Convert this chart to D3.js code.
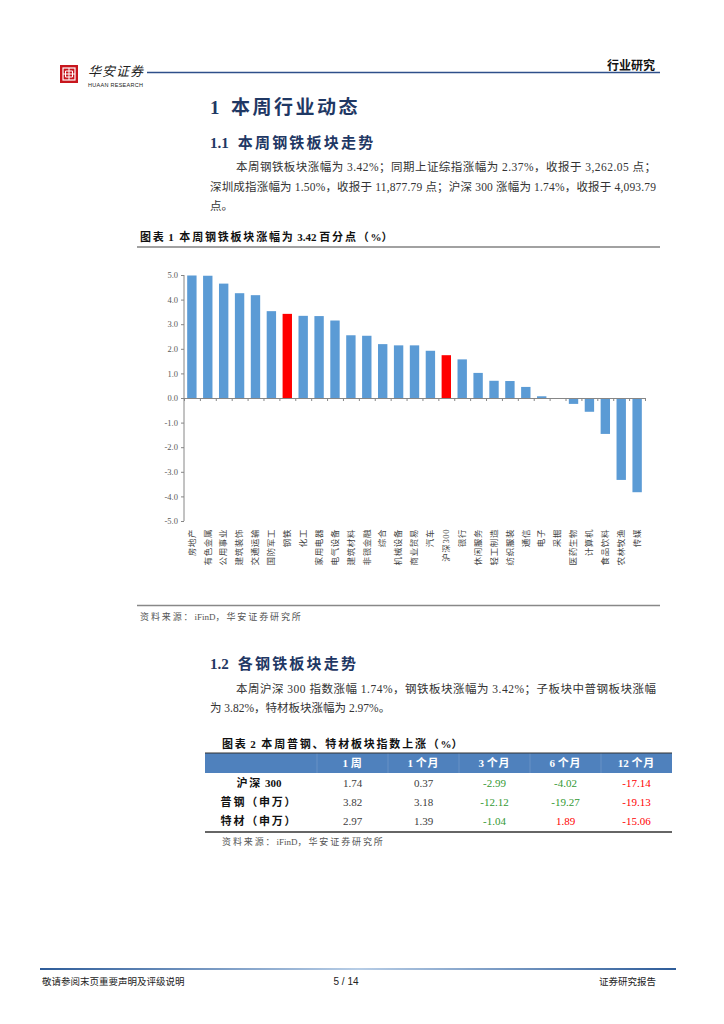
<!DOCTYPE html>
<html>
<head>
<meta charset="utf-8">
<script src="https://cdn.jsdelivr.net/npm/d3@7"></script>
<style>
  html, body { margin: 0; padding: 0; background: #fff; }
  svg { display: block; }
  .serif { font-family: "Liberation Serif", "Noto Sans CJK SC", serif; }
  .sans { font-family: "Liberation Sans", "Noto Sans CJK SC", sans-serif; }
</style>
</head>
<body>
<svg id="page" width="724" height="1024"></svg>
<script>
// ---- chart 1: weekly change by sector (%) ----
const sectors = ["房地产", "有色金属", "公用事业", "建筑装饰", "交通运输", "国防军工", "钢铁", "化工",
    "家用电器", "电气设备", "建筑材料", "非银金融", "综合", "机械设备", "商业贸易", "汽车", "沪深300",
    "银行", "休闲服务", "轻工制造", "纺织服装", "通信", "电子", "采掘", "医药生物", "计算机",
    "食品饮料", "农林牧渔", "传媒"];
const weeklyChange = [4.98, 4.97, 4.65, 4.26, 4.18, 3.53, 3.42, 3.34, 3.33, 3.15, 2.55, 2.53,
    2.19, 2.14, 2.14, 1.92, 1.74, 1.57, 1.02, 0.70, 0.69, 0.45, 0.07, -0.01, -0.24, -0.56,
    -1.46, -3.33, -3.83];
const highlighted = ["钢铁", "沪深300"];
const yTicks = [-5, -4, -3, -2, -1, 0, 1, 2, 3, 4, 5];

// ---- table 2: steel sub-sector index change (%) ----
const periods = ["1 周", "1 个月", "3 个月", "6 个月", "12 个月"];
const indexNames = ["沪深 300", "普钢（申万）", "特材（申万）"];
const hs300Row = [1.74, 0.37, -2.99, -4.02, -17.14];
const puGangRow = [3.82, 3.18, -12.12, -19.27, -19.13];
const teCaiRow = [2.97, 1.39, -1.04, 1.89, -15.06];

const svg = d3.select("#page");
const navy = "#1f3864";
const ink = "#333333";

// split a string into CJK / latin runs, spacing out only the CJK ones
function spaced(sel, txt, spacing) {
    let runs = txt.match(/[\u3000-\u9fff\uff00-\uffef]+|[^\u3000-\u9fff\uff00-\uffef]+/g);
    runs.forEach(function (r) {
        let cjk = /[\u3000-\u9fff\uff00-\uffef]/.test(r);
        sel.append("tspan").style("letter-spacing", cjk ? spacing + "px" : "0px")
            .text(cjk ? r : r.replace(/ /g, "\u00a0"));
    });
    return sel;
}

// ---------------- page header ----------------
let logo = svg.append("g").attr("transform", "translate(60,65)");
logo.append("rect").attr("width", 18).attr("height", 18).attr("fill", "#c8161d");
logo.append("rect").attr("x", 3).attr("y", 3).attr("width", 12).attr("height", 12)
    .attr("fill", "none").attr("stroke", "#fff").attr("stroke-width", 1.2);
logo.append("path").attr("d", "M9,3V15M3,9H15M5.5,6H12.5V12H5.5Z")
    .attr("fill", "none").attr("stroke", "#fff").attr("stroke-width", 1);

svg.append("text").attr("x", 88).attr("y", 76)
    .style("font-family", "'Noto Sans CJK SC'").style("font-size", "13px")
    .style("font-style", "italic").style("letter-spacing", "1px")
    .attr("fill", "#222").text("华安证券");
svg.append("text").attr("x", 88).attr("y", 87).attr("class", "sans")
    .style("font-size", "5.5px").attr("fill", "#222").attr("textLength", 55)
    .text("HUAAN RESEARCH");
svg.append("line").attr("x1", 147).attr("x2", 660).attr("y1", 72.5).attr("y2", 72.5)
    .attr("stroke", "#2e4f8a").attr("stroke-width", 1.5);
svg.append("text").attr("x", 655).attr("y", 70).attr("text-anchor", "end")
    .style("font-family", "'Noto Sans CJK SC'").style("font-size", "12px")
    .style("font-weight", "bold").attr("fill", "#111").text("行业研究");

// ---------------- text blocks ----------------
function heading(x, y, size, spacing, num, title) {
    let t = svg.append("text").attr("x", x).attr("y", y).attr("class", "serif")
        .style("font-size", size + "px").style("font-weight", "bold")
        .attr("fill", navy);
    t.append("tspan").text(num);
    t.append("tspan").attr("dx", size * 0.6).style("letter-spacing", spacing + "px").text(title);
}
function para(x, y, txt, width) {
    let t = svg.append("text").attr("x", x).attr("y", y).attr("class", "serif")
        .style("font-size", "11.5px").attr("fill", ink).text(txt);
    if (width) t.attr("textLength", width).attr("lengthAdjust", "spacing");
}
function caption(x, y, txt) {
    let t = svg.append("text").attr("x", x).attr("y", y).attr("class", "serif")
        .style("font-size", "11px").style("font-weight", "bold")
        .attr("fill", "#111");
    spaced(t, txt, 1.8);
}
function source(x, y) {
    let t = svg.append("text").attr("x", x).attr("y", y).attr("class", "serif")
        .style("font-size", "9px").attr("fill", "#555");
    spaced(t, "资料来源：iFinD，华安证券研究所", 1.9);
}

heading(210, 114, 19, 2.5, "1", "本周行业动态");
heading(210, 148, 15, 2.2, "1.1", "本周钢铁板块走势");
para(236, 171, "本周钢铁板块涨幅为 3.42%；同期上证综指涨幅为 2.37%，收报于 3,262.05 点；", 420);
para(210, 191, "深圳成指涨幅为 1.50%，收报于 11,877.79 点；沪深 300 涨幅为 1.74%，收报于 4,093.79", 446);
para(210, 210, "点。");

caption(140, 241, "图表 1  本周钢铁板块涨幅为 3.42 百分点（%）");
svg.append("line").attr("x1", 137).attr("x2", 660).attr("y1", 247).attr("y2", 247)
    .attr("stroke", "#444").attr("stroke-width", 1.2);

// ---------------- chart 1 ----------------
let x = d3.scaleBand().domain(sectors).range([184, 645]).paddingInner(0.41).paddingOuter(0.2);
let y = d3.scaleLinear().domain([-5, 5]).range([521, 275]);
let chart = svg.append("g").attr("id", "chart1");

chart.selectAll("rect.bar")
    .data(sectors)
    .enter().append("rect")
    .attr("class", "bar")
    .attr("x", d => x(d))
    .attr("width", x.bandwidth())
    .attr("y", (d, i) => y(Math.max(0, weeklyChange[i])))
    .attr("height", (d, i) => Math.abs(y(weeklyChange[i]) - y(0)))
    .attr("fill", d => highlighted.includes(d) ? "#ff0000" : "#5b9bd5");

let yAxis = d3.axisLeft(y).tickValues(yTicks).tickSize(3).tickPadding(3)
    .tickFormat(d => d.toFixed(1));
let gy = chart.append("g").attr("transform", "translate(184,0)").call(yAxis);
gy.selectAll("text").attr("class", "serif").style("font-size", "8.5px").attr("fill", "#595959");
gy.selectAll("line, path").attr("stroke", "#868686");
gy.select("path").attr("d", "M0," + y(5) + "V" + y(-5));

// tick marks on category boundaries
let bounds = d3.scaleLinear().domain([0, sectors.length]).range([184, 645]);
let xAxis = d3.axisBottom(bounds).tickValues(d3.range(sectors.length + 1)).tickSize(3)
    .tickSizeOuter(0).tickFormat("");
let gx = chart.append("g").attr("transform", "translate(0," + y(0) + ")").call(xAxis);
gx.selectAll("line, path").attr("stroke", "#868686");

// category labels
let labelAxis = d3.axisBottom(x).tickSize(0).tickPadding(0);
let gl = chart.append("g").attr("transform", "translate(0,529)").call(labelAxis);
gl.select("path").remove();
gl.selectAll("text")
    .attr("class", "serif")
    .style("font-size", "8.5px")
    .style("letter-spacing", "0.6px")
    .attr("fill", "#444")
    .attr("text-anchor", "end")
    .attr("dy", "0.32em")
    .attr("transform", "rotate(-90)")
    .attr("x", 0).attr("y", 0);

svg.append("line").attr("x1", 137).attr("x2", 660).attr("y1", 605.5).attr("y2", 605.5)
    .attr("stroke", "#888").attr("stroke-width", 1.5);
source(140, 620);

// ---------------- section 1.2 ----------------
heading(210, 669, 15, 2.2, "1.2", "各钢铁板块走势");
para(236, 693, "本周沪深 300 指数涨幅 1.74%，钢铁板块涨幅为 3.42%；子板块中普钢板块涨幅", 420);
para(210, 712, "为 3.82%，特材板块涨幅为 2.97%。");

caption(222, 748, "图表 2  本周普钢、特材板块指数上涨（%）");

// ---------------- table 2 ----------------
let colX = d3.scaleBand().domain(periods).range([317, 672]);
let rowY = d3.scaleBand().domain(indexNames).range([773, 831]);
let table = svg.append("g").attr("id", "table2");

table.append("rect").attr("x", 205).attr("y", 753).attr("width", 467).attr("height", 20)
    .attr("fill", "#4f81bd");
table.selectAll("line.div")
    .data(periods)
    .enter().append("line")
    .attr("class", "div")
    .attr("x1", d => colX(d)).attr("x2", d => colX(d))
    .attr("y1", 753).attr("y2", 773)
    .attr("stroke", "#7aa0cf").attr("stroke-width", 0.6);
table.append("line").attr("x1", 205).attr("x2", 672).attr("y1", 753).attr("y2", 753)
    .attr("stroke", "#333").attr("stroke-width", 1);
table.append("line").attr("x1", 205).attr("x2", 672).attr("y1", 832).attr("y2", 832)
    .attr("stroke", "#333").attr("stroke-width", 1.5);

table.selectAll("text.head")
    .data(periods)
    .enter().append("text")
    .attr("class", "head serif")
    .attr("x", d => colX(d) + colX.bandwidth() / 2)
    .attr("y", 767)
    .attr("text-anchor", "middle")
    .style("font-size", "11px").style("font-weight", "bold")
    .attr("fill", "#fff")
    .each(function (d) { spaced(d3.select(this), d, 1); });

let rows = [hs300Row, puGangRow, teCaiRow];
table.selectAll("text.rowname")
    .data(indexNames)
    .enter().append("text")
    .attr("class", "rowname serif")
    .attr("x", 259)
    .attr("y", d => rowY(d) + rowY.bandwidth() / 2 + 4)
    .attr("text-anchor", "middle")
    .style("font-size", "11px").style("font-weight", "bold")
    .attr("fill", "#111")
    .each(function (d) { spaced(d3.select(this), d, 1.8); });

function tone(v, j) {
    if (j < 2) return "#404040";
    if (j === 4) return "#ff0000";
    return v < 0 ? "#339933" : "#ff0000";
}
rows.forEach(function (row, i) {
    table.selectAll("text.r" + i)
        .data(row)
        .enter().append("text")
        .attr("class", "r" + i + " serif")
        .attr("x", (d, j) => colX(periods[j]) + colX.bandwidth() / 2)
        .attr("y", rowY(indexNames[i]) + rowY.bandwidth() / 2 + 4)
        .attr("text-anchor", "middle")
        .style("font-size", "11px")
        .attr("fill", (d, j) => tone(d, j))
        .text(d => d.toFixed(2));
});

source(222, 845);

// ---------------- footer ----------------
let grad = svg.append("defs").append("linearGradient").attr("id", "foot");
grad.append("stop").attr("offset", "0%").attr("stop-color", "#2e5c99");
grad.append("stop").attr("offset", "50%").attr("stop-color", "#b7cde6");
grad.append("stop").attr("offset", "100%").attr("stop-color", "#2e5c99");
svg.append("rect").attr("x", 40).attr("y", 968).attr("width", 636).attr("height", 2)
    .attr("fill", "url(#foot)");
svg.append("text").attr("x", 42).attr("y", 985)
    .style("font-family", "'Noto Sans CJK SC'").style("font-size", "9.5px")
    .attr("fill", "#222").text("敬请参阅末页重要声明及评级说明");
svg.append("text").attr("x", 346).attr("y", 985).attr("text-anchor", "middle")
    .attr("class", "sans").style("font-size", "10px").attr("fill", "#222").text("5 / 14");
svg.append("text").attr("x", 656).attr("y", 985).attr("text-anchor", "end")
    .style("font-family", "'Noto Sans CJK SC'").style("font-size", "9.5px")
    .attr("fill", "#222").text("证券研究报告");
</script>
</body>
</html>
